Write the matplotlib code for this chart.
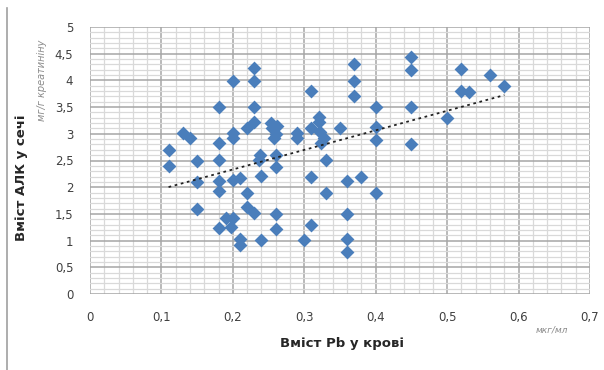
import numpy as np
import matplotlib
matplotlib.use("Agg")
import matplotlib.pyplot as plt
from matplotlib.ticker import MultipleLocator, FuncFormatter
from matplotlib.lines import Line2D

# Data: Pb in blood (mkg/ml) vs ALA in urine (mg/g creatinine)
pb_blood = [0.11, 0.11, 0.13, 0.14, 0.15, 0.15, 0.15, 0.18, 0.18, 0.18,
            0.18, 0.18, 0.18, 0.19, 0.20, 0.20, 0.20, 0.20, 0.20, 0.198,
            0.21, 0.21, 0.21, 0.22, 0.22, 0.22, 0.23, 0.23, 0.23, 0.23,
            0.23, 0.238, 0.236, 0.24, 0.24, 0.253, 0.255, 0.26, 0.258, 0.262,
            0.26, 0.26, 0.26, 0.26, 0.29, 0.29, 0.30, 0.31, 0.31, 0.31,
            0.31, 0.32, 0.32, 0.322, 0.327, 0.324, 0.33, 0.33, 0.35, 0.36,
            0.36, 0.36, 0.36, 0.37, 0.37, 0.37, 0.38, 0.40, 0.40, 0.40,
            0.40, 0.45, 0.45, 0.45, 0.45, 0.50, 0.52, 0.52, 0.53, 0.56,
            0.58]
ala_urine = [2.70, 2.40, 3.02, 2.92, 2.50, 2.10, 1.60, 3.50, 2.82, 2.51,
             2.12, 1.92, 1.23, 1.42, 3.99, 3.01, 2.92, 2.13, 1.42, 1.26,
             2.17, 1.03, 0.91, 3.10, 1.90, 1.62, 4.23, 3.99, 3.50, 3.22,
             1.51, 2.60, 2.51, 2.21, 1.01, 3.20, 3.10, 3.00, 2.92, 3.14,
             2.61, 2.38, 1.50, 1.22, 3.01, 2.92, 1.01, 3.80, 3.10, 2.20,
             1.29, 3.32, 3.22, 3.04, 2.92, 2.82, 2.51, 1.90, 3.10, 2.12,
             1.50, 1.03, 0.79, 4.30, 3.99, 3.71, 2.20, 3.50, 3.12, 2.89,
             1.90, 4.43, 4.19, 3.50, 2.81, 3.30, 4.21, 3.80, 3.79, 4.11,
             3.90]

x_label = "Вміст Pb у крові"
y_label = "Вміст АЛК у сечі"
x_unit = "мкг/мл"
y_unit = "мг/г креатиніну"

plt.rcParams['font.family'] = ['DejaVu Sans']

fig = plt.figure(figsize=(6.04, 3.70), dpi=100)
ax = fig.add_axes([90/604, 76/370, 500/604, 267/370])

x = np.array(pb_blood)
y = np.array(ala_urine)

ax.set_xlim(0, 0.7)
ax.set_ylim(0, 5)
ax.xaxis.set_major_locator(MultipleLocator(0.1))
ax.xaxis.set_minor_locator(MultipleLocator(0.02))
ax.yaxis.set_major_locator(MultipleLocator(0.5))
ax.yaxis.set_minor_locator(MultipleLocator(0.1))
ax.grid(which='minor', color='#d9d9d9', linewidth=0.9)
ax.grid(which='major', color='#a6a6a6', linewidth=1.1)
ax.set_axisbelow(True)
for s in ax.spines.values():
    s.set_visible(False)
ax.tick_params(which='both', length=0, labelsize=8.5, colors='#404040')
ax.tick_params(axis='x', pad=12)
ax.tick_params(axis='y', pad=12)

fmt = FuncFormatter(lambda v, p: ('%g' % round(v, 2)).replace('.', ','))
ax.xaxis.set_major_formatter(fmt)
ax.yaxis.set_major_formatter(fmt)

ax.scatter(x, y, marker='D', s=50, color='#4a7ebb', zorder=3, linewidths=0)

k, b = np.polyfit(x, y, 1)
xs = np.array([x.min(), x.max()])
ax.plot(xs, k * xs + b, color='#222222', linestyle=(0, (1.5, 2)), linewidth=1.3, zorder=4)

fig.text(342/604, 1 - 343/370, x_label, ha='center', va='center', fontsize=9.5,
         fontweight='bold', color='#262626')
fig.text(22/604, 1 - 178/370, y_label, ha='center', va='center', fontsize=9.5,
         fontweight='bold', color='#262626', rotation=90)
fig.text(42/604, 1 - 80/370, y_unit, ha='center', va='center', fontsize=7,
         style='italic', color='#8a8a8a', rotation=90)
fig.text(552/604, 1 - 330/370, x_unit, ha='center', va='center', fontsize=6.5,
         style='italic', color='#8a8a8a')

fig.add_artist(Line2D([7/604, 7/604], [0, 1 - 8/370], color='#a0a0a0', linewidth=1.2))

fig.savefig('out.png', dpi=100)
